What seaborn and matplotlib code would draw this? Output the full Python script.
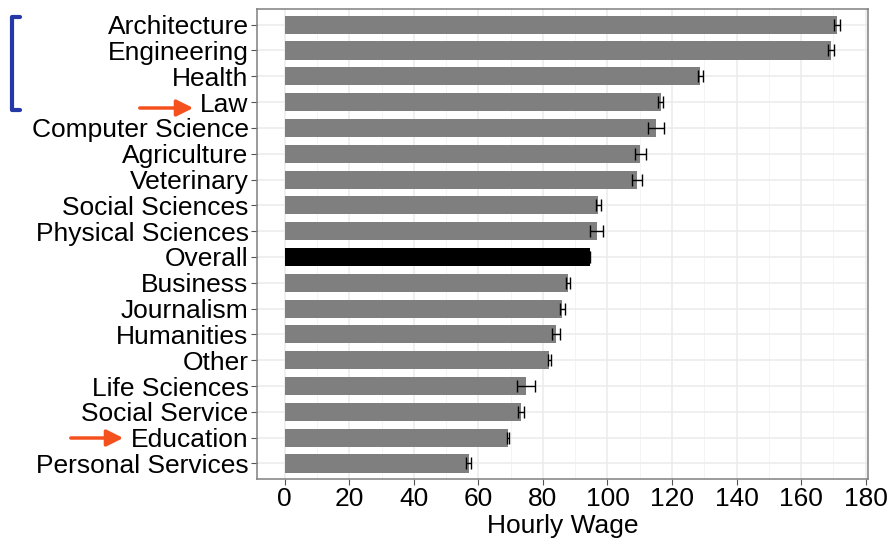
import matplotlib
matplotlib.use("Agg")
import matplotlib.pyplot as plt
import seaborn as sns
import pandas as pd
from matplotlib.patches import FancyArrowPatch
from matplotlib.lines import Line2D

majors = ["Architecture", "Engineering", "Health", "Law", "Computer Science",
          "Agriculture", "Veterinary", "Social Sciences", "Physical Sciences",
          "Overall", "Business", "Journalism", "Humanities", "Other",
          "Life Sciences", "Social Service", "Education", "Personal Services"]
wages = [171.0, 169.3, 128.7, 116.5, 115.1, 110.2, 109.1, 97.2, 96.6,
         94.5, 87.8, 86.0, 84.1, 82.0, 74.7, 73.2, 69.2, 57.0]
errors = [0.9, 0.9, 0.8, 0.7, 2.4, 1.75, 1.65, 0.8, 2.0,
          0.2, 0.5, 0.7, 1.3, 0.4, 2.7, 0.9, 0.2, 0.7]

df = pd.DataFrame({"major": majors, "wage": wages, "err": errors})
palette = {m: ("black" if m == "Overall" else "#7f7f7f") for m in majors}

sns.set_style("white")
plt.rcParams["font.family"] = ["Liberation Sans", "DejaVu Sans"]

fig = plt.figure(figsize=(8.89, 5.4), dpi=100)
ax = fig.add_axes([0.289, 0.113, 0.687, 0.870])

sns.barplot(data=df, x="wage", y="major", hue="major", palette=palette,
            legend=False, width=0.7, ax=ax, errorbar=None, saturation=1,
            edgecolor="none", zorder=3)
ax.errorbar(df["wage"], range(len(df)), xerr=df["err"], fmt="none",
            ecolor="black", elinewidth=1, capsize=4.5, capthick=1, zorder=4)

ax.set_xlim(-8.6, 180.6)
ax.set_ylim(len(majors) - 0.4, -0.6)
ax.set_xticks(range(0, 181, 20))
ax.set_xticks(range(10, 181, 20), minor=True)
ax.grid(True, which="major", color="#ebebeb", linewidth=1.1, zorder=0)
ax.grid(True, which="minor", axis="x", color="#f2f2f2", linewidth=0.6, zorder=0)
ax.set_axisbelow(True)

for s in ax.spines.values():
    s.set_color("#808080")
    s.set_linewidth(1.1)

ax.tick_params(axis="both", which="major", length=4, color="#555555",
               labelsize=19, labelcolor="black", pad=2, bottom=True, left=True)
ax.tick_params(axis="x", which="minor", length=0)
ax.set_xlabel("Hourly Wage", fontsize=19, labelpad=2, color="black")
ax.set_ylabel("")

# annotations in figure pixels
blue = "#2438a8"
fig.add_artist(Line2D([20, 12, 12, 20], [523, 523, 430, 430],
                      transform=None, color=blue, linewidth=3))
orange = "#f4511e"
for (x0, x1, y) in [(137, 196, 432), (68, 126, 102)]:
    fig.add_artist(FancyArrowPatch((x0, y), (x1, y), transform=None,
                                   arrowstyle="-|>,head_length=10,head_width=5",
                                   color=orange, linewidth=2.5,
                                   mutation_scale=1))

fig.savefig("out.png", dpi=100)
